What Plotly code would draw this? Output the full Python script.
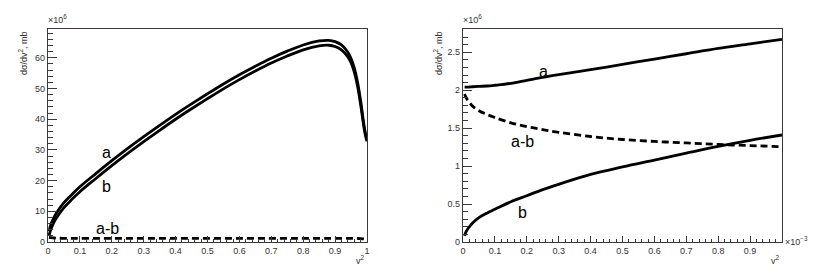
import plotly.graph_objects as go

# ---------------- data (left panel, values x 10^6 mb) ----------------
v2_left = [0.003, 0.01, 0.02, 0.03, 0.05, 0.075, 0.1, 0.15, 0.2, 0.25, 0.3, 0.35, 0.4,
           0.45, 0.5, 0.55, 0.6, 0.65, 0.7, 0.75, 0.8, 0.85, 0.88, 0.9, 0.92, 0.94,
           0.95, 0.96, 0.97, 0.98, 0.99, 0.995, 1.0]
a_left = [3.5, 6.0, 8.3, 10.0, 12.8, 15.5, 18.0, 22.3, 26.5, 30.5, 34.3, 38.0, 41.6,
          45.0, 48.3, 51.5, 54.5, 57.3, 59.9, 62.2, 64.2, 65.5, 65.7, 65.3, 64.2, 61.8,
          59.8, 56.8, 52.3, 46.0, 38.5, 35.5, 33.5]
b_left = [2.0, 4.4, 6.7, 8.4, 11.2, 13.9, 16.4, 20.7, 24.9, 28.9, 32.7, 36.4, 40.0,
          43.4, 46.7, 49.9, 52.9, 55.7, 58.3, 60.6, 62.6, 63.9, 64.1, 63.7, 62.6, 60.3,
          58.4, 55.4, 51.0, 44.8, 37.6, 34.7, 32.8]
amb_left = [1.5, 1.4, 1.3, 1.25, 1.2, 1.2, 1.2, 1.2, 1.2, 1.2, 1.2, 1.2, 1.2,
            1.2, 1.2, 1.2, 1.2, 1.2, 1.2, 1.2, 1.2, 1.2, 1.2, 1.2, 1.2, 1.2,
            1.2, 1.2, 1.15, 1.1, 1.0, 0.9, 0.8]

# ---------------- data (right panel, v^2 x 10^-3, values x 10^6 mb) ----------------
v2_right = [0.005, 0.01, 0.02, 0.03, 0.05, 0.075, 0.1, 0.15, 0.2, 0.25, 0.3, 0.4, 0.5,
            0.6, 0.7, 0.8, 0.9, 1.0]
a_right = [2.04, 2.04, 2.042, 2.045, 2.05, 2.055, 2.065, 2.09, 2.13, 2.17, 2.205, 2.27,
           2.34, 2.41, 2.48, 2.55, 2.61, 2.67]
b_right = [0.08, 0.14, 0.2, 0.25, 0.32, 0.38, 0.43, 0.53, 0.61, 0.69, 0.76, 0.89, 0.99,
           1.08, 1.17, 1.26, 1.34, 1.41]
amb_right = [1.95, 1.9, 1.84, 1.79, 1.73, 1.68, 1.64, 1.57, 1.52, 1.48, 1.445, 1.39,
             1.35, 1.325, 1.305, 1.285, 1.27, 1.255]

x_ticks_left = [0, 0.1, 0.2, 0.3, 0.4, 0.5, 0.6, 0.7, 0.8, 0.9, 1]
x_ticklabels_left = ["0", "0.1", "0.2", "0.3", "0.4", "0.5", "0.6", "0.7", "0.8", "0.9", "1"]
x_ticks_right = [0, 0.1, 0.2, 0.3, 0.4, 0.5, 0.6, 0.7, 0.8, 0.9]
x_ticklabels_right = ["0", "0.1", "0.2", "0.3", "0.4", "0.5", "0.6", "0.7", "0.8", "0.9"]
y_ticks_left = [0, 10, 20, 30, 40, 50, 60]
y_ticklabels_left = ["0", "10", "20", "30", "40", "50", "60"]
y_ticks_right = [0, 0.5, 1, 1.5, 2, 2.5]
y_ticklabels_right = ["0", "0.5", "1", "1.5", "2", "2.5"]

FONT = "Liberation Sans, Arial, Helvetica, sans-serif"
W, H = 830, 273
OFF = 8  # page body margin of the html page

fig = go.Figure()
solid = dict(color="black", width=2.8)
dashed = dict(color="black", width=2.8, dash="7px,4px")

fig.add_trace(go.Scatter(x=v2_left, y=a_left, mode="lines", line=dict(solid, shape="spline"),
                         xaxis="x", yaxis="y", showlegend=False))
fig.add_trace(go.Scatter(x=v2_left, y=b_left, mode="lines", line=dict(solid, shape="spline"),
                         xaxis="x", yaxis="y", showlegend=False))
fig.add_trace(go.Scatter(x=v2_left, y=amb_left, mode="lines", line=dict(dashed, shape="spline"),
                         xaxis="x", yaxis="y", showlegend=False))
fig.add_trace(go.Scatter(x=v2_right, y=a_right, mode="lines", line=dict(solid, shape="spline"),
                         xaxis="x2", yaxis="y2", showlegend=False))
fig.add_trace(go.Scatter(x=v2_right, y=b_right, mode="lines", line=dict(solid, shape="spline"),
                         xaxis="x2", yaxis="y2", showlegend=False))
fig.add_trace(go.Scatter(x=v2_right, y=amb_right, mode="lines", line=dict(dashed, shape="spline"),
                         xaxis="x2", yaxis="y2", showlegend=False))

px_x = lambda p: (p - OFF) / W
px_y = lambda p: 1 - (p - OFF) / H

frame_col = "#3a3a3a"
tickfont = dict(family=FONT, size=9, color="#333333")

def xax(domain, tv, tt, anchor):
    return dict(domain=domain, range=[0, 1], anchor=anchor, automargin=False,
                showgrid=False, zeroline=False,
                showline=True, linecolor=frame_col, linewidth=1.2, mirror=True,
                ticks="inside", ticklen=6, tickcolor=frame_col, tickwidth=1,
                tickvals=tv, ticktext=tt, tickfont=tickfont, ticklabelstandoff=0,
                minor=dict(ticks="inside", ticklen=3, dtick=0.02, tick0=0,
                           tickcolor=frame_col, tickwidth=1, showgrid=False))

def yax(domain, rng, tv, tt, dt_minor, anchor):
    return dict(domain=domain, range=rng, anchor=anchor, automargin=False,
                showgrid=False, zeroline=False,
                showline=True, linecolor=frame_col, linewidth=1.2, mirror=True,
                ticks="inside", ticklen=9, tickcolor=frame_col, tickwidth=1,
                tickvals=tv, ticktext=tt, tickfont=tickfont, ticklabelstandoff=0,
                minor=dict(ticks="inside", ticklen=5, dtick=dt_minor, tick0=0,
                           tickcolor=frame_col, tickwidth=1, showgrid=False))

ydom = [px_y(242), px_y(29)]
fig.update_layout(
    width=W, height=H, margin=dict(l=0, r=0, t=0, b=0, autoexpand=False),
    paper_bgcolor="white", plot_bgcolor="white",
    xaxis=xax([px_x(48), px_x(367)], x_ticks_left, x_ticklabels_left, "y"),
    yaxis=yax(ydom, [0, 69.4], y_ticks_left, y_ticklabels_left, 2, "x"),
    xaxis2=xax([px_x(463), px_x(782)], x_ticks_right, x_ticklabels_right, "y2"),
    yaxis2=yax(ydom, [0, 2.806], y_ticks_right, y_ticklabels_right, 0.1, "x2"),
)

small = dict(family=FONT, size=9, color="#333333")
big = dict(family=FONT, size=16, color="black")
ann = []
for x0 in (0, 415):
    ann.append(dict(x=px_x(x0 + 23), y=px_y(29), xref="paper", yref="paper",
                    text="dσ/dv<sup>2</sup>, mb", textangle=-90, showarrow=False,
                    xanchor="center", yanchor="top", font=small))
    ann.append(dict(x=px_x(x0 + 46), y=px_y(27), xref="paper", yref="paper",
                    text="×10<sup>6</sup>", showarrow=False, xanchor="left",
                    yanchor="bottom", font=small))
    ann.append(dict(x=px_x(x0 + 367), y=px_y(252), xref="paper", yref="paper",
                    text="v<sup>2</sup>", showarrow=False, xanchor="right",
                    yanchor="top", font=small))
ann.append(dict(x=px_x(783), y=px_y(241), xref="paper", yref="paper",
                text="×10<sup>−3</sup>", showarrow=False, xanchor="left",
                yanchor="middle", font=small))
# curve labels
ann += [
    dict(x=0.184, y=29.3, xref="x", yref="y", text="a", showarrow=False, font=big),
    dict(x=0.184, y=18.0, xref="x", yref="y", text="b", showarrow=False, font=big),
    dict(x=0.186, y=4.4, xref="x", yref="y", text="a-b", showarrow=False, font=big),
    dict(x=0.252, y=2.24, xref="x2", yref="y2", text="a", showarrow=False, font=big),
    dict(x=0.186, y=1.32, xref="x2", yref="y2", text="a-b", showarrow=False, font=big),
    dict(x=0.186, y=0.385, xref="x2", yref="y2", text="b", showarrow=False, font=big),
]
fig.update_layout(annotations=ann)

fig.write_html("out.html")
